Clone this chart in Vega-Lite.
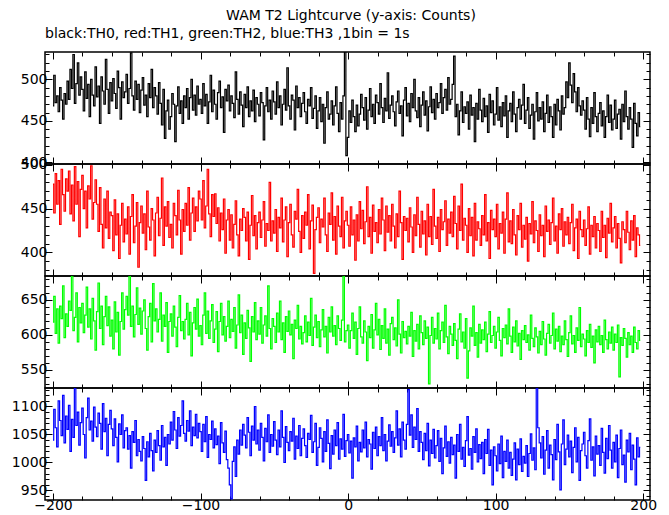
{
"$schema": "https://vega.github.io/schema/vega-lite/v6.json",
"padding": {"left": 10, "top": 8, "right": 5, "bottom": 0},
"background": "white",
"title": {"text": "WAM T2 Lightcurve (y-axis: Counts)", "anchor": "middle", "frame": "bounds", "dx": 17, "fontSize": 14, "fontWeight": "normal", "font": "DejaVu Sans", "color": "black", "offset": 4},
"data": {"values": [
{"t":-200,"a":468,"b":478,"c":618,"d":1040},{"t":-199,"a":505,"b":445,"c":655,"d":1095},{"t":-198,"a":472,"b":490,"c":602,"d":1062},{"t":-197,"a":480,"b":455,"c":637,"d":1028},{"t":-196,"a":461,"b":482,"c":588,"d":1110},{"t":-195,"a":490,"b":432,"c":641,"d":1075},{"t":-194,"a":475,"b":495,"c":623,"d":1048},{"t":-193,"a":452,"b":466,"c":670,"d":1120},{"t":-192,"a":483,"b":447,"c":596,"d":1035},{"t":-191,"a":470,"b":484,"c":630,"d":1083},
{"t":-190,"a":498,"b":470,"c":612,"d":1059},{"t":-189,"a":476,"b":493,"c":648,"d":1102},{"t":-188,"a":512,"b":444,"c":635,"d":1020},{"t":-187,"a":489,"b":477,"c":684,"d":1077},{"t":-186,"a":530,"b":436,"c":606,"d":1045},{"t":-185,"a":471,"b":498,"c":625,"d":1133},{"t":-184,"a":495,"b":455,"c":660,"d":1066},{"t":-183,"a":520,"b":481,"c":590,"d":1090},{"t":-182,"a":481,"b":418,"c":639,"d":1031},{"t":-181,"a":503,"b":472,"c":617,"d":1071},
{"t":-180,"a":488,"b":488,"c":645,"d":1097},{"t":-179,"a":462,"b":450,"c":603,"d":1050},{"t":-178,"a":509,"b":470,"c":628,"d":1008},{"t":-177,"a":477,"b":428,"c":668,"d":1080},{"t":-176,"a":494,"b":476,"c":611,"d":1115},{"t":-175,"a":455,"b":461,"c":637,"d":1058},{"t":-174,"a":500,"b":499,"c":594,"d":1074},{"t":-173,"a":481,"b":438,"c":652,"d":1038},{"t":-172,"a":468,"b":457,"c":620,"d":1099},{"t":-171,"a":515,"b":483,"c":578,"d":1063},
{"t":-170,"a":479,"b":455,"c":633,"d":1046},{"t":-169,"a":492,"b":424,"c":674,"d":1088},{"t":-168,"a":447,"b":474,"c":609,"d":1070},{"t":-167,"a":503,"b":432,"c":641,"d":1024},{"t":-166,"a":486,"b":405,"c":586,"d":1105},{"t":-165,"a":470,"b":461,"c":626,"d":1055},{"t":-164,"a":524,"b":428,"c":655,"d":1079},{"t":-163,"a":488,"b":470,"c":613,"d":1012},{"t":-162,"a":459,"b":416,"c":640,"d":1068},{"t":-161,"a":496,"b":446,"c":598,"d":1093},
{"t":-160,"a":474,"b":442,"c":621,"d":1060},{"t":-159,"a":501,"b":402,"c":580,"d":1030},{"t":-158,"a":483,"b":460,"c":647,"d":1078},{"t":-157,"a":465,"b":420,"c":604,"d":1045},{"t":-156,"a":510,"b":444,"c":632,"d":1001},{"t":-155,"a":490,"b":393,"c":571,"d":1069},{"t":-154,"a":452,"b":431,"c":619,"d":1050},{"t":-153,"a":497,"b":456,"c":660,"d":1085},{"t":-152,"a":478,"b":412,"c":608,"d":1026},{"t":-151,"a":485,"b":438,"c":636,"d":1057},
{"t":-150,"a":506,"b":421,"c":655,"d":1062},{"t":-149,"a":471,"b":452,"c":628,"d":1024},{"t":-148,"a":489,"b":398,"c":684,"d":1048},{"t":-147,"a":532,"b":441,"c":612,"d":990},{"t":-146,"a":480,"b":466,"c":641,"d":1055},{"t":-145,"a":463,"b":411,"c":597,"d":1036},{"t":-144,"a":498,"b":430,"c":629,"d":1075},{"t":-143,"a":476,"b":457,"c":667,"d":1012},{"t":-142,"a":494,"b":383,"c":615,"d":1041},{"t":-141,"a":460,"b":434,"c":638,"d":1020},
{"t":-140,"a":487,"b":453,"c":601,"d":1003},{"t":-139,"a":502,"b":422,"c":634,"d":1046},{"t":-138,"a":469,"b":444,"c":650,"d":1025},{"t":-137,"a":481,"b":403,"c":609,"d":968},{"t":-136,"a":455,"b":470,"c":578,"d":1037},{"t":-135,"a":495,"b":429,"c":626,"d":1010},{"t":-134,"a":478,"b":414,"c":645,"d":1052},{"t":-133,"a":512,"b":450,"c":590,"d":1021},{"t":-132,"a":466,"b":437,"c":673,"d":985},{"t":-131,"a":490,"b":396,"c":620,"d":1040},
{"t":-130,"a":480,"b":445,"c":637,"d":1018},{"t":-129,"a":458,"b":463,"c":604,"d":1057},{"t":-128,"a":496,"b":419,"c":622,"d":1030},{"t":-127,"a":471,"b":439,"c":660,"d":1004},{"t":-126,"a":445,"b":485,"c":591,"d":1066},{"t":-125,"a":488,"b":408,"c":628,"d":1028},{"t":-124,"a":429,"b":452,"c":612,"d":1045},{"t":-123,"a":462,"b":430,"c":646,"d":995},{"t":-122,"a":475,"b":458,"c":575,"d":1050},{"t":-121,"a":440,"b":417,"c":619,"d":1033},
{"t":-120,"a":455,"b":432,"c":630,"d":1072},{"t":-119,"a":483,"b":405,"c":598,"d":1040},{"t":-118,"a":470,"b":456,"c":641,"d":1091},{"t":-117,"a":425,"b":442,"c":611,"d":1058},{"t":-116,"a":468,"b":420,"c":583,"d":1025},{"t":-115,"a":491,"b":471,"c":625,"d":1080},{"t":-114,"a":459,"b":437,"c":656,"d":1047},{"t":-113,"a":474,"b":398,"c":606,"d":1066},{"t":-112,"a":447,"b":449,"c":619,"d":1110},{"t":-111,"a":480,"b":424,"c":594,"d":1052},
{"t":-110,"a":466,"b":456,"c":622,"d":1038},{"t":-109,"a":489,"b":431,"c":645,"d":1075},{"t":-108,"a":452,"b":474,"c":600,"d":1056},{"t":-107,"a":478,"b":414,"c":632,"d":1092},{"t":-106,"a":500,"b":445,"c":570,"d":1030},{"t":-105,"a":463,"b":462,"c":617,"d":1063},{"t":-104,"a":481,"b":424,"c":639,"d":1048},{"t":-103,"a":457,"b":452,"c":608,"d":1086},{"t":-102,"a":492,"b":436,"c":651,"d":1044},{"t":-101,"a":470,"b":470,"c":598,"d":1070},
{"t":-100,"a":476,"b":461,"c":613,"d":1055},{"t":-99,"a":459,"b":437,"c":586,"d":1020},{"t":-98,"a":495,"b":482,"c":628,"d":1068},{"t":-97,"a":468,"b":428,"c":660,"d":1037},{"t":-96,"a":482,"b":453,"c":602,"d":1082},{"t":-95,"a":447,"b":495,"c":634,"d":1009},{"t":-94,"a":473,"b":444,"c":595,"d":1050},{"t":-93,"a":505,"b":418,"c":620,"d":1041},{"t":-92,"a":461,"b":466,"c":643,"d":1074},{"t":-91,"a":487,"b":441,"c":589,"d":1026},
{"t":-90,"a":470,"b":467,"c":608,"d":1060},{"t":-89,"a":452,"b":433,"c":633,"d":1032},{"t":-88,"a":484,"b":451,"c":576,"d":1047},{"t":-87,"a":498,"b":413,"c":619,"d":998},{"t":-86,"a":466,"b":445,"c":645,"d":1071},{"t":-85,"a":479,"b":426,"c":600,"d":1035},{"t":-84,"a":436,"b":461,"c":626,"d":1018},{"t":-83,"a":488,"b":399,"c":591,"d":1056},{"t":-82,"a":474,"b":437,"c":612,"d":1005},{"t":-81,"a":493,"b":449,"c":648,"d":990},
{"t":-80,"a":462,"b":414,"c":596,"d":960},{"t":-79,"a":480,"b":443,"c":622,"d":935},{"t":-78,"a":471,"b":405,"c":605,"d":1002},{"t":-77,"a":454,"b":432,"c":639,"d":1028},{"t":-76,"a":509,"b":459,"c":581,"d":975},{"t":-75,"a":476,"b":420,"c":614,"d":1040},{"t":-74,"a":458,"b":396,"c":657,"d":1015},{"t":-73,"a":485,"b":438,"c":603,"d":1058},{"t":-72,"a":469,"b":425,"c":628,"d":1031},{"t":-71,"a":443,"b":450,"c":572,"d":1068},
{"t":-70,"a":482,"b":440,"c":617,"d":1049},{"t":-69,"a":466,"b":413,"c":595,"d":1026},{"t":-68,"a":491,"b":446,"c":635,"d":1080},{"t":-67,"a":455,"b":392,"c":610,"d":1054},{"t":-66,"a":474,"b":431,"c":562,"d":1012},{"t":-65,"a":462,"b":465,"c":626,"d":1065},{"t":-64,"a":487,"b":419,"c":604,"d":1040},{"t":-63,"a":449,"b":442,"c":646,"d":1100},{"t":-62,"a":478,"b":404,"c":593,"d":1033},{"t":-61,"a":470,"b":434,"c":620,"d":1058},
{"t":-60,"a":456,"b":446,"c":601,"d":1022},{"t":-59,"a":484,"b":417,"c":639,"d":1070},{"t":-58,"a":472,"b":437,"c":588,"d":1045},{"t":-57,"a":427,"b":458,"c":614,"d":1003},{"t":-56,"a":468,"b":407,"c":627,"d":1061},{"t":-55,"a":490,"b":433,"c":598,"d":1037},{"t":-54,"a":461,"b":425,"c":670,"d":1085},{"t":-53,"a":475,"b":480,"c":609,"d":1018},{"t":-52,"a":452,"b":413,"c":580,"d":1050},{"t":-51,"a":486,"b":436,"c":623,"d":1029},
{"t":-50,"a":473,"b":422,"c":612,"d":1073},{"t":-49,"a":458,"b":449,"c":589,"d":1040},{"t":-48,"a":497,"b":401,"c":631,"d":1014},{"t":-47,"a":466,"b":440,"c":604,"d":1058},{"t":-46,"a":480,"b":428,"c":648,"d":1028},{"t":-45,"a":445,"b":462,"c":593,"d":1092},{"t":-44,"a":470,"b":412,"c":617,"d":1045},{"t":-43,"a":488,"b":437,"c":575,"d":1000},{"t":-42,"a":463,"b":452,"c":626,"d":1064},{"t":-41,"a":514,"b":395,"c":605,"d":1036},
{"t":-40,"a":468,"b":434,"c":634,"d":1021},{"t":-39,"a":452,"b":455,"c":600,"d":1055},{"t":-38,"a":481,"b":420,"c":615,"d":1038},{"t":-37,"a":475,"b":406,"c":566,"d":1079},{"t":-36,"a":439,"b":447,"c":621,"d":1006},{"t":-35,"a":492,"b":438,"c":609,"d":1047},{"t":-34,"a":466,"b":472,"c":642,"d":1025},{"t":-33,"a":478,"b":424,"c":594,"d":1066},{"t":-32,"a":455,"b":400,"c":612,"d":1012},{"t":-31,"a":471,"b":442,"c":587,"d":1043},
{"t":-30,"a":484,"b":416,"c":603,"d":1060},{"t":-29,"a":461,"b":446,"c":627,"d":1030},{"t":-28,"a":447,"b":431,"c":590,"d":1009},{"t":-27,"a":476,"b":466,"c":618,"d":1052},{"t":-26,"a":468,"b":404,"c":599,"d":1041},{"t":-25,"a":490,"b":436,"c":652,"d":1084},{"t":-24,"a":453,"b":454,"c":585,"d":1018},{"t":-23,"a":465,"b":376,"c":611,"d":1037},{"t":-22,"a":480,"b":426,"c":628,"d":1070},{"t":-21,"a":441,"b":440,"c":596,"d":995},
{"t":-20,"a":462,"b":451,"c":619,"d":1027},{"t":-19,"a":478,"b":411,"c":583,"d":1062},{"t":-18,"a":449,"b":438,"c":607,"d":1043},{"t":-17,"a":470,"b":429,"c":636,"d":1001},{"t":-16,"a":423,"b":462,"c":597,"d":1055},{"t":-15,"a":466,"b":420,"c":612,"d":1020},{"t":-14,"a":485,"b":401,"c":574,"d":1076},{"t":-13,"a":452,"b":445,"c":625,"d":1034},{"t":-12,"a":458,"b":432,"c":604,"d":989},{"t":-11,"a":474,"b":468,"c":640,"d":1048},
{"t":-10,"a":445,"b":414,"c":598,"d":1015},{"t":-9,"a":468,"b":441,"c":613,"d":1058},{"t":-8,"a":491,"b":398,"c":586,"d":1030},{"t":-7,"a":459,"b":453,"c":627,"d":1071},{"t":-6,"a":437,"b":430,"c":609,"d":1006},{"t":-5,"a":472,"b":418,"c":592,"d":1042},{"t":-4,"a":452,"b":463,"c":621,"d":1024},{"t":-3,"a":480,"b":405,"c":684,"d":1086},{"t":-2,"a":540,"b":436,"c":590,"d":1011},{"t":-1,"a":408,"b":447,"c":606,"d":1039},
{"t":0,"a":430,"b":431,"c":614,"d":1050},{"t":1,"a":462,"b":407,"c":581,"d":1017},{"t":2,"a":448,"b":452,"c":606,"d":1038},{"t":3,"a":475,"b":420,"c":631,"d":972},{"t":4,"a":455,"b":437,"c":595,"d":1044},{"t":5,"a":437,"b":391,"c":618,"d":1028},{"t":6,"a":469,"b":443,"c":572,"d":1065},{"t":7,"a":444,"b":413,"c":609,"d":1003},{"t":8,"a":458,"b":458,"c":640,"d":1036},{"t":9,"a":482,"b":427,"c":597,"d":1019},
{"t":10,"a":466,"b":448,"c":588,"d":1058},{"t":11,"a":451,"b":410,"c":620,"d":1026},{"t":12,"a":478,"b":435,"c":604,"d":1072},{"t":13,"a":440,"b":475,"c":563,"d":1010},{"t":14,"a":463,"b":418,"c":612,"d":1041},{"t":15,"a":489,"b":440,"c":596,"d":1033},{"t":16,"a":455,"b":399,"c":629,"d":988},{"t":17,"a":470,"b":454,"c":581,"d":1054},{"t":18,"a":447,"b":424,"c":607,"d":1025},{"t":19,"a":481,"b":434,"c":645,"d":1063},
{"t":20,"a":472,"b":411,"c":600,"d":1012},{"t":21,"a":458,"b":449,"c":622,"d":1046},{"t":22,"a":495,"b":421,"c":579,"d":1030},{"t":23,"a":466,"b":462,"c":613,"d":1080},{"t":24,"a":448,"b":437,"c":595,"d":1021},{"t":25,"a":477,"b":402,"c":637,"d":1050},{"t":26,"a":462,"b":453,"c":588,"d":1003},{"t":27,"a":508,"b":423,"c":608,"d":1038},{"t":28,"a":453,"b":442,"c":571,"d":1067},{"t":29,"a":469,"b":413,"c":616,"d":1029},
{"t":30,"a":480,"b":455,"c":625,"d":1055},{"t":31,"a":461,"b":430,"c":593,"d":1018},{"t":32,"a":444,"b":405,"c":610,"d":1044},{"t":33,"a":473,"b":444,"c":584,"d":1092},{"t":34,"a":486,"b":418,"c":650,"d":1031},{"t":35,"a":459,"b":470,"c":601,"d":1060},{"t":36,"a":468,"b":434,"c":574,"d":1010},{"t":37,"a":432,"b":392,"c":619,"d":1072},{"t":38,"a":475,"b":441,"c":596,"d":1040},{"t":39,"a":490,"b":425,"c":605,"d":1024},
{"t":40,"a":456,"b":439,"c":587,"d":1068},{"t":41,"a":471,"b":412,"c":612,"d":1130},{"t":42,"a":449,"b":451,"c":598,"d":1049},{"t":43,"a":483,"b":429,"c":632,"d":1085},{"t":44,"a":466,"b":400,"c":569,"d":1027},{"t":45,"a":500,"b":443,"c":606,"d":1063},{"t":46,"a":462,"b":419,"c":591,"d":1041},{"t":47,"a":454,"b":463,"c":615,"d":1096},{"t":48,"a":478,"b":432,"c":580,"d":1020},{"t":49,"a":443,"b":406,"c":627,"d":1055},
{"t":50,"a":469,"b":447,"c":603,"d":1036},{"t":51,"a":485,"b":421,"c":586,"d":1005},{"t":52,"a":457,"b":436,"c":620,"d":1052},{"t":53,"a":474,"b":397,"c":595,"d":1021},{"t":54,"a":438,"b":455,"c":611,"d":1070},{"t":55,"a":467,"b":418,"c":530,"d":994},{"t":56,"a":491,"b":441,"c":599,"d":1040},{"t":57,"a":460,"b":409,"c":625,"d":1016},{"t":58,"a":476,"b":472,"c":588,"d":1059},{"t":59,"a":452,"b":430,"c":609,"d":1008},
{"t":60,"a":483,"b":416,"c":594,"d":1030},{"t":61,"a":466,"b":440,"c":631,"d":1057},{"t":62,"a":472,"b":401,"c":580,"d":1002},{"t":63,"a":495,"b":449,"c":606,"d":1043},{"t":64,"a":459,"b":426,"c":618,"d":980},{"t":65,"a":478,"b":435,"c":589,"d":1026},{"t":66,"a":488,"b":459,"c":642,"d":1065},{"t":67,"a":463,"b":408,"c":597,"d":1011},{"t":68,"a":502,"b":438,"c":573,"d":1037},{"t":69,"a":470,"b":422,"c":612,"d":999},
{"t":70,"a":476,"b":446,"c":601,"d":1045},{"t":71,"a":494,"b":418,"c":585,"d":1014},{"t":72,"a":528,"b":464,"c":616,"d":1031},{"t":73,"a":455,"b":433,"c":592,"d":972},{"t":74,"a":470,"b":404,"c":566,"d":1050},{"t":75,"a":433,"b":453,"c":608,"d":1020},{"t":76,"a":462,"b":425,"c":630,"d":1068},{"t":77,"a":485,"b":478,"c":590,"d":1006},{"t":78,"a":448,"b":414,"c":604,"d":1027},{"t":79,"a":467,"b":439,"c":581,"d":993},
{"t":80,"a":459,"b":431,"c":623,"d":1039},{"t":81,"a":473,"b":400,"c":538,"d":1082},{"t":82,"a":440,"b":450,"c":577,"d":1013},{"t":83,"a":481,"b":419,"c":610,"d":1025},{"t":84,"a":457,"b":440,"c":598,"d":988},{"t":85,"a":466,"b":396,"c":641,"d":1046},{"t":86,"a":425,"b":456,"c":585,"d":1018},{"t":87,"a":471,"b":414,"c":603,"d":1060},{"t":88,"a":452,"b":435,"c":568,"d":1001},{"t":89,"a":488,"b":427,"c":615,"d":1032},
{"t":90,"a":463,"b":408,"c":588,"d":1007},{"t":91,"a":449,"b":442,"c":607,"d":1036},{"t":92,"a":477,"b":420,"c":593,"d":980},{"t":93,"a":455,"b":466,"c":618,"d":1041},{"t":94,"a":468,"b":413,"c":576,"d":1016},{"t":95,"a":436,"b":434,"c":601,"d":1059},{"t":96,"a":482,"b":393,"c":633,"d":995},{"t":97,"a":460,"b":448,"c":589,"d":1022},{"t":98,"a":474,"b":426,"c":599,"d":960},{"t":99,"a":445,"b":438,"c":612,"d":1028},
{"t":100,"a":458,"b":418,"c":581,"d":1012},{"t":101,"a":490,"b":455,"c":604,"d":985},{"t":102,"a":451,"b":404,"c":625,"d":1033},{"t":103,"a":467,"b":433,"c":592,"d":998},{"t":104,"a":443,"b":422,"c":570,"d":1047},{"t":105,"a":472,"b":446,"c":609,"d":973},{"t":106,"a":456,"b":399,"c":596,"d":1020},{"t":107,"a":480,"b":438,"c":614,"d":1002},{"t":108,"a":430,"b":468,"c":587,"d":1040},{"t":109,"a":462,"b":412,"c":637,"d":990},
{"t":110,"a":471,"b":436,"c":598,"d":1018},{"t":111,"a":449,"b":410,"c":575,"d":977},{"t":112,"a":485,"b":449,"c":611,"d":1006},{"t":113,"a":458,"b":420,"c":590,"d":1035},{"t":114,"a":437,"b":397,"c":620,"d":969},{"t":115,"a":466,"b":442,"c":584,"d":1024},{"t":116,"a":476,"b":426,"c":602,"d":996},{"t":117,"a":452,"b":456,"c":565,"d":1042},{"t":118,"a":469,"b":406,"c":606,"d":984},{"t":119,"a":494,"b":431,"c":593,"d":1011},
{"t":120,"a":447,"b":415,"c":613,"d":999},{"t":121,"a":463,"b":440,"c":589,"d":1030},{"t":122,"a":478,"b":390,"c":600,"d":975},{"t":123,"a":441,"b":433,"c":578,"d":1016},{"t":124,"a":457,"b":421,"c":628,"d":1051},{"t":125,"a":470,"b":458,"c":595,"d":1004},{"t":126,"a":428,"b":411,"c":583,"d":1026},{"t":127,"a":461,"b":436,"c":610,"d":987},{"t":128,"a":484,"b":425,"c":597,"d":1133},{"t":129,"a":450,"b":401,"c":574,"d":1062},
{"t":130,"a":466,"b":443,"c":605,"d":1035},{"t":131,"a":452,"b":419,"c":586,"d":1008},{"t":132,"a":473,"b":431,"c":619,"d":1046},{"t":133,"a":437,"b":395,"c":594,"d":979},{"t":134,"a":459,"b":453,"c":571,"d":1022},{"t":135,"a":481,"b":424,"c":602,"d":1057},{"t":136,"a":448,"b":437,"c":615,"d":990},{"t":137,"a":467,"b":409,"c":588,"d":1031},{"t":138,"a":455,"b":434,"c":599,"d":1014},{"t":139,"a":430,"b":462,"c":631,"d":969},
{"t":140,"a":470,"b":413,"c":580,"d":1041},{"t":141,"a":445,"b":430,"c":608,"d":1005},{"t":142,"a":476,"b":399,"c":591,"d":1068},{"t":143,"a":462,"b":444,"c":612,"d":1019},{"t":144,"a":439,"b":426,"c":576,"d":951},{"t":145,"a":480,"b":450,"c":598,"d":1033},{"t":146,"a":458,"b":407,"c":586,"d":1076},{"t":147,"a":466,"b":435,"c":620,"d":996},{"t":148,"a":497,"b":420,"c":593,"d":1024},{"t":149,"a":478,"b":440,"c":569,"d":1049},
{"t":150,"a":520,"b":410,"c":603,"d":1010},{"t":151,"a":493,"b":434,"c":627,"d":1038},{"t":152,"a":472,"b":455,"c":587,"d":982},{"t":153,"a":507,"b":402,"c":599,"d":1027},{"t":154,"a":485,"b":428,"c":575,"d":1062},{"t":155,"a":461,"b":438,"c":610,"d":1001},{"t":156,"a":490,"b":393,"c":592,"d":1045},{"t":157,"a":468,"b":447,"c":639,"d":968},{"t":158,"a":457,"b":426,"c":583,"d":1021},{"t":159,"a":474,"b":418,"c":601,"d":1033},
{"t":160,"a":463,"b":437,"c":594,"d":1054},{"t":161,"a":440,"b":408,"c":570,"d":1012},{"t":162,"a":478,"b":427,"c":606,"d":990},{"t":163,"a":452,"b":452,"c":589,"d":1039},{"t":164,"a":431,"b":398,"c":615,"d":1078},{"t":165,"a":466,"b":431,"c":582,"d":1004},{"t":166,"a":447,"b":418,"c":598,"d":1028},{"t":167,"a":484,"b":441,"c":560,"d":976},{"t":168,"a":455,"b":405,"c":607,"d":1047},{"t":169,"a":437,"b":433,"c":590,"d":1015},
{"t":170,"a":459,"b":425,"c":612,"d":1030},{"t":171,"a":472,"b":401,"c":586,"d":995},{"t":172,"a":444,"b":447,"c":599,"d":1061},{"t":173,"a":462,"b":417,"c":575,"d":1018},{"t":174,"a":430,"b":431,"c":621,"d":981},{"t":175,"a":455,"b":394,"c":593,"d":1043},{"t":176,"a":481,"b":439,"c":580,"d":1007},{"t":177,"a":448,"b":422,"c":604,"d":1066},{"t":178,"a":469,"b":456,"c":588,"d":1022},{"t":179,"a":439,"b":412,"c":611,"d":990},
{"t":180,"a":452,"b":428,"c":578,"d":1036},{"t":181,"a":475,"b":441,"c":601,"d":1001},{"t":182,"a":441,"b":405,"c":589,"d":1049},{"t":183,"a":458,"b":433,"c":614,"d":973},{"t":184,"a":464,"b":416,"c":540,"d":1025},{"t":185,"a":428,"b":388,"c":596,"d":1058},{"t":186,"a":470,"b":435,"c":585,"d":996},{"t":187,"a":449,"b":426,"c":609,"d":1013},{"t":188,"a":486,"b":411,"c":595,"d":965},{"t":189,"a":455,"b":447,"c":568,"d":1040},
{"t":190,"a":440,"b":423,"c":603,"d":1019},{"t":191,"a":466,"b":403,"c":586,"d":1052},{"t":192,"a":452,"b":436,"c":598,"d":987},{"t":193,"a":418,"b":414,"c":575,"d":1031},{"t":194,"a":471,"b":442,"c":611,"d":1006},{"t":195,"a":447,"b":395,"c":589,"d":960},{"t":196,"a":432,"b":428,"c":580,"d":1044},{"t":197,"a":460,"b":420,"c":606,"d":1010},{"t":198,"a":443,"b":408,"c":592,"d":1027}
]},
"spacing": 0,
"bounds": "flush",
"vconcat": [
{
"title": {"text": "black:TH0, red:TH1, green:TH2, blue:TH3 ,1bin = 1s", "anchor": "start", "frame": "group", "offset": 6, "fontSize": 14, "fontWeight": "normal", "font": "DejaVu Sans", "color": "black"},
"width": 605, "height": 112,
"layer": [
{"mark": {"type": "line", "interpolate": "step", "clip": true, "color": "#000000", "strokeWidth": 1.2},
"encoding": {
"x": {"field": "t", "type": "quantitative", "scale": {"domain": [-205.4, 204.6], "nice": false, "zero": false}, "axis": {"title": null, "orient": "bottom", "values": [-200,-180,-160,-140,-120,-100,-80,-60,-40,-20,0,20,40,60,80,100,120,140,160,180,200], "labels": false, "tickSize": {"condition": {"test": "datum.value % 100 === 0", "value": -7}, "value": -4}}},
"y": {"field": "a", "type": "quantitative", "scale": {"domain": [398, 533], "nice": false, "zero": false}, "axis": {"title": null, "orient": "left", "format": "d", "values": [400,410,420,430,440,450,460,470,480,490,500,510,520,530], "labelExpr": "datum.value % 50 === 0 ? datum.label : ''", "tickSize": {"condition": {"test": "datum.value % 50 === 0", "value": -7}, "value": -4}}}
}},
{"mark": {"type": "line", "interpolate": "step", "clip": true, "strokeOpacity": 0},
"encoding": {
"x": {"field": "t", "type": "quantitative", "scale": {"domain": [-205.4, 204.6], "nice": false, "zero": false}, "axis": {"title": null, "orient": "top", "values": [-200,-180,-160,-140,-120,-100,-80,-60,-40,-20,0,20,40,60,80,100,120,140,160,180,200], "labels": false, "tickSize": {"condition": {"test": "datum.value % 100 === 0", "value": -7}, "value": -4}}},
"y": {"field": "a", "type": "quantitative", "scale": {"domain": [398, 533], "nice": false, "zero": false}, "axis": {"title": null, "orient": "right", "values": [400,410,420,430,440,450,460,470,480,490,500,510,520,530], "labels": false, "tickSize": {"condition": {"test": "datum.value % 50 === 0", "value": -7}, "value": -4}}}
}}
],
"resolve": {"axis": {"x": "independent", "y": "independent"}}
},
{
"width": 605, "height": 112,
"layer": [
{"mark": {"type": "line", "interpolate": "step", "clip": true, "color": "#ff0000", "strokeWidth": 1.2},
"encoding": {
"x": {"field": "t", "type": "quantitative", "scale": {"domain": [-205.4, 204.6], "nice": false, "zero": false}, "axis": {"title": null, "orient": "bottom", "values": [-200,-180,-160,-140,-120,-100,-80,-60,-40,-20,0,20,40,60,80,100,120,140,160,180,200], "labels": false, "tickSize": {"condition": {"test": "datum.value % 100 === 0", "value": -7}, "value": -4}}},
"y": {"field": "b", "type": "quantitative", "scale": {"domain": [373, 501], "nice": false, "zero": false}, "axis": {"title": null, "orient": "left", "format": "d", "values": [380,390,400,410,420,430,440,450,460,470,480,490,500], "labelExpr": "datum.value % 50 === 0 ? datum.label : ''", "tickSize": {"condition": {"test": "datum.value % 50 === 0", "value": -7}, "value": -4}}}
}},
{"mark": {"type": "line", "interpolate": "step", "clip": true, "strokeOpacity": 0},
"encoding": {
"x": {"field": "t", "type": "quantitative", "scale": {"domain": [-205.4, 204.6], "nice": false, "zero": false}, "axis": {"title": null, "orient": "top", "values": [-200,-180,-160,-140,-120,-100,-80,-60,-40,-20,0,20,40,60,80,100,120,140,160,180,200], "labels": false, "tickSize": {"condition": {"test": "datum.value % 100 === 0", "value": -7}, "value": -4}}},
"y": {"field": "b", "type": "quantitative", "scale": {"domain": [373, 501], "nice": false, "zero": false}, "axis": {"title": null, "orient": "right", "values": [380,390,400,410,420,430,440,450,460,470,480,490,500], "labels": false, "tickSize": {"condition": {"test": "datum.value % 50 === 0", "value": -7}, "value": -4}}}
}}
],
"resolve": {"axis": {"x": "independent", "y": "independent"}}
},
{
"width": 605, "height": 112,
"layer": [
{"mark": {"type": "line", "interpolate": "step", "clip": true, "color": "#00ff00", "strokeWidth": 1.2},
"encoding": {
"x": {"field": "t", "type": "quantitative", "scale": {"domain": [-205.4, 204.6], "nice": false, "zero": false}, "axis": {"title": null, "orient": "bottom", "values": [-200,-180,-160,-140,-120,-100,-80,-60,-40,-20,0,20,40,60,80,100,120,140,160,180,200], "labels": false, "tickSize": {"condition": {"test": "datum.value % 100 === 0", "value": -7}, "value": -4}}},
"y": {"field": "c", "type": "quantitative", "scale": {"domain": [524, 684], "nice": false, "zero": false}, "axis": {"title": null, "orient": "left", "format": "d", "values": [530,540,550,560,570,580,590,600,610,620,630,640,650,660,670,680], "labelExpr": "datum.value % 50 === 0 ? datum.label : ''", "tickSize": {"condition": {"test": "datum.value % 50 === 0", "value": -7}, "value": -4}}}
}},
{"mark": {"type": "line", "interpolate": "step", "clip": true, "strokeOpacity": 0},
"encoding": {
"x": {"field": "t", "type": "quantitative", "scale": {"domain": [-205.4, 204.6], "nice": false, "zero": false}, "axis": {"title": null, "orient": "top", "values": [-200,-180,-160,-140,-120,-100,-80,-60,-40,-20,0,20,40,60,80,100,120,140,160,180,200], "labels": false, "tickSize": {"condition": {"test": "datum.value % 100 === 0", "value": -7}, "value": -4}}},
"y": {"field": "c", "type": "quantitative", "scale": {"domain": [524, 684], "nice": false, "zero": false}, "axis": {"title": null, "orient": "right", "values": [530,540,550,560,570,580,590,600,610,620,630,640,650,660,670,680], "labels": false, "tickSize": {"condition": {"test": "datum.value % 50 === 0", "value": -7}, "value": -4}}}
}}
],
"resolve": {"axis": {"x": "independent", "y": "independent"}}
},
{
"width": 605, "height": 112,
"layer": [
{"mark": {"type": "line", "interpolate": "step", "clip": true, "color": "#0000ff", "strokeWidth": 1.2},
"encoding": {
"x": {"field": "t", "type": "quantitative", "scale": {"domain": [-205.4, 204.6], "nice": false, "zero": false}, "axis": {"title": null, "orient": "bottom", "format": "d", "values": [-200,-180,-160,-140,-120,-100,-80,-60,-40,-20,0,20,40,60,80,100,120,140,160,180,200], "labelExpr": "datum.value % 100 === 0 ? datum.label : ''", "tickSize": {"condition": {"test": "datum.value % 100 === 0", "value": -7}, "value": -4}}},
"y": {"field": "d", "type": "quantitative", "scale": {"domain": [933, 1133], "nice": false, "zero": false}, "axis": {"title": null, "orient": "left", "format": "d", "values": [940,950,960,970,980,990,1000,1010,1020,1030,1040,1050,1060,1070,1080,1090,1100,1110,1120,1130], "labelExpr": "datum.value % 50 === 0 ? datum.label : ''", "tickSize": {"condition": {"test": "datum.value % 50 === 0", "value": -7}, "value": -4}}}
}},
{"mark": {"type": "line", "interpolate": "step", "clip": true, "strokeOpacity": 0},
"encoding": {
"x": {"field": "t", "type": "quantitative", "scale": {"domain": [-205.4, 204.6], "nice": false, "zero": false}, "axis": {"title": null, "orient": "top", "values": [-200,-180,-160,-140,-120,-100,-80,-60,-40,-20,0,20,40,60,80,100,120,140,160,180,200], "labels": false, "tickSize": {"condition": {"test": "datum.value % 100 === 0", "value": -7}, "value": -4}}},
"y": {"field": "d", "type": "quantitative", "scale": {"domain": [933, 1133], "nice": false, "zero": false}, "axis": {"title": null, "orient": "right", "values": [940,950,960,970,980,990,1000,1010,1020,1030,1040,1050,1060,1070,1080,1090,1100,1110,1120,1130], "labels": false, "tickSize": {"condition": {"test": "datum.value % 50 === 0", "value": -7}, "value": -4}}}
}}
],
"resolve": {"axis": {"x": "independent", "y": "independent"}}
}
],
"config": {
"view": {"stroke": "#000000", "strokeWidth": 1.5},
"axis": {"grid": false, "domain": false, "labelFont": "DejaVu Sans", "labelFontSize": 14, "labelColor": "#000000", "tickColor": "#000000", "tickWidth": 1, "labelOverlap": false, "labelFlush": false, "labelPadding": 5}
}
}
